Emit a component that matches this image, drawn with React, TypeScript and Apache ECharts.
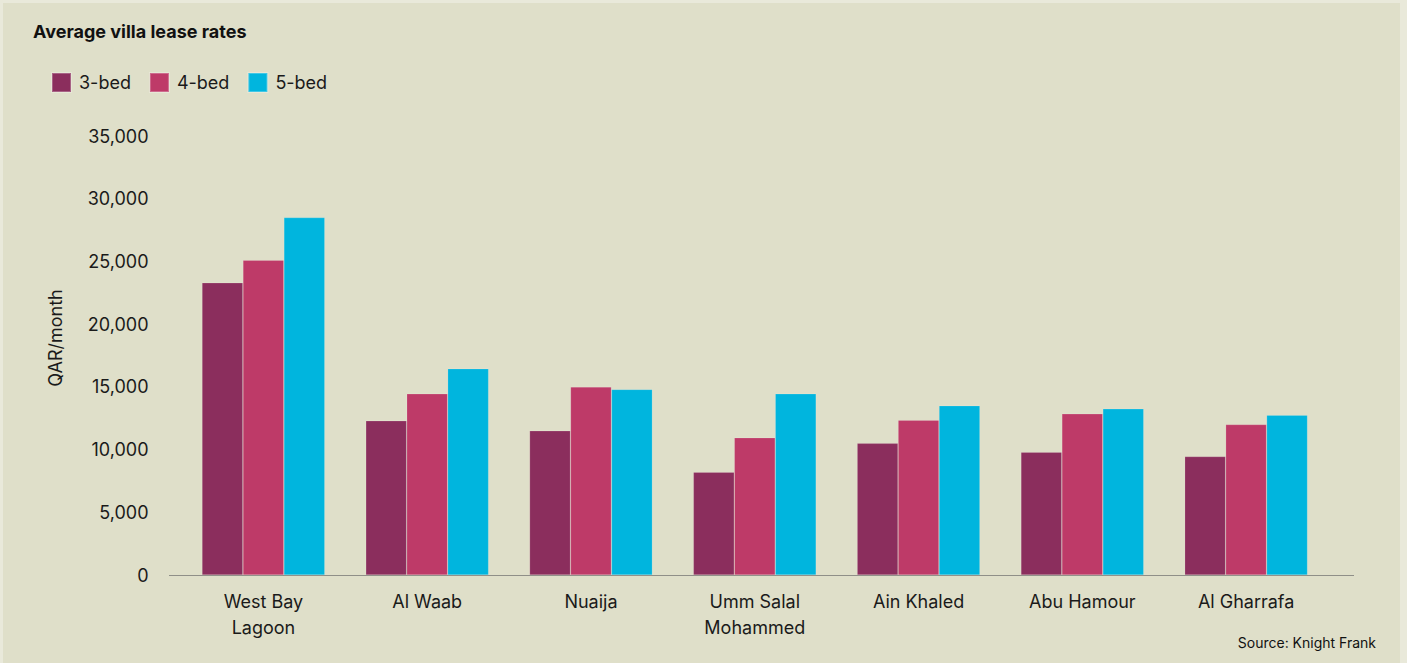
import React, { useEffect, useRef } from "react";
import * as echarts from "echarts";

const categories = [
  "West Bay\nLagoon",
  "Al Waab",
  "Nuaija",
  "Umm Salal\nMohammed",
  "Ain Khaled",
  "Abu Hamour",
  "Al Gharrafa",
];
const seriesNames = ["3-bed", "4-bed", "5-bed"];
const bed3 = [23300, 12300, 11500, 8200, 10500, 9800, 9450];
const bed4 = [25100, 14450, 15000, 10950, 12350, 12850, 12000];
const bed5 = [28500, 16450, 14800, 14450, 13500, 13250, 12750];
const colors = ["#8b2e5d", "#be3a68", "#00b5de"];

export default function App() {
  const ref = useRef<HTMLDivElement>(null);
  useEffect(() => {
    if (!ref.current) return;
    const chart = echarts.init(ref.current, null, { renderer: "svg" });
    const font = "Inter, 'Liberation Sans', Arial, sans-serif";
    const data = [bed3, bed4, bed5];
    chart.setOption({
      animation: false,
      backgroundColor: "#e9e9da",
      textStyle: { fontFamily: font },
      graphic: [
        {
          type: "rect",
          z: -10,
          shape: { x: 3, y: 3, width: 1397, height: 663 },
          style: { fill: "#dfdfc9" },
        },
        {
          type: "text",
          left: 33,
          top: 22,
          style: {
            text: "Average villa lease rates",
            font: `bold 18px ${font}`,
            fill: "#111",
          },
        },
        {
          type: "text",
          x: 55,
          y: 338,
          rotation: Math.PI / 2,
          style: {
            text: "QAR/month",
            font: `18px ${font}`,
            fill: "#1a1a1a",
            align: "center",
            verticalAlign: "middle",
          },
        },
        {
          type: "line",
          shape: { x1: 169, y1: 575.5, x2: 1354, y2: 575.5 },
          style: { stroke: "#8f8f88", lineWidth: 1.2 },
        },
        {
          type: "text",
          right: 31,
          top: 635,
          style: {
            text: "Source: Knight Frank",
            font: `14px ${font}`,
            fill: "#111",
          },
        },
      ],
      legend: {
        left: 51,
        top: 72,
        padding: 0,
        itemWidth: 19,
        itemHeight: 19,
        itemGap: 18,
        icon: "rect",
        textStyle: { fontSize: 18, color: "#1a1a1a", fontFamily: font, padding: [0, 0, 0, 3] },
        data: seriesNames,
      },
      grid: { left: 181.5, right: 79, top: 136, bottom: 88, containLabel: false },
      xAxis: {
        type: "category",
        data: categories,
        axisLine: { show: false },
        axisTick: { show: false },
        axisLabel: {
          fontSize: 18,
          color: "#1a1a1a",
          lineHeight: 26,
          margin: 13,
          fontFamily: font,
        },
      },
      yAxis: {
        type: "value",
        min: 0,
        max: 35000,
        interval: 5000,
        splitLine: { show: false },
        axisLine: { show: false },
        axisTick: { show: false },
        axisLabel: {
          fontSize: 18,
          color: "#1a1a1a",
          margin: 33,
          fontFamily: font,
          formatter: (v: number) => v.toLocaleString("en-US"),
        },
      },
      series: seriesNames.map((name, i) => ({
        name,
        type: "bar",
        data: data[i],
        barGap: "0%",
        barCategoryGap: "25%",
        itemStyle: { color: colors[i], borderColor: "rgba(255,255,255,0.25)", borderWidth: 0.6 },
      })),
    });
    return () => chart.dispose();
  }, []);
  return (
    <div
      ref={ref}
      style={{ position: "absolute", left: 0, top: 0, width: 1407, height: 663 }}
    />
  );
}
